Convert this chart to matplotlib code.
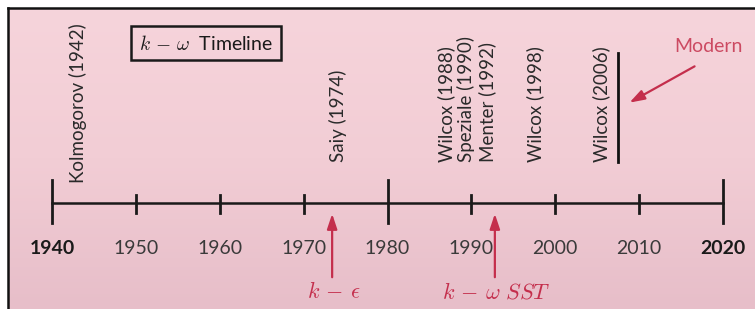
import matplotlib.pyplot as plt
import numpy as np

plt.rcParams['font.family'] = ['Lato', 'DejaVu Sans']
plt.rcParams['mathtext.fontset'] = 'cm'

# timeline data
tick_years = [1940, 1950, 1960, 1970, 1980, 1990, 2000, 2010, 2020]
major_years = [1940, 1980, 2020]
bold_years = [1940, 2020]
events = ['Kolmogorov (1942)', 'Saiy (1974)', 'Wilcox (1988)', 'Speziale (1990)',
          'Menter (1992)', 'Wilcox (1998)', 'Wilcox (2006)']
event_years = [1942, 1974, 1988, 1990, 1992, 1998, 2006]
label_shift = [1.1, 0.1, -1.0, -0.7, -0.1, -0.4, -0.5]   # nudges, in years
label_base = [183, 162, 162, 162, 162, 162, 162]
models = [r'$k\,-\,\epsilon$', r'$k\,-\,\omega\ SST$']
model_years = [1973.4, 1992.8]
modern_year = 2007.5

RED = '#c42e4c'
PX = 8.3875  # pixels per year

fig = plt.figure(figsize=(7.55, 3.09), dpi=100)
fig.patch.set_facecolor('white')
ax = fig.add_axes([0, 0, 1, 1])
ax.set_xlim(1940 - 52 / PX, 1940 + 703 / PX)
ax.set_ylim(309, 0)
ax.axis('off')

# pink slide background with a soft vertical gradient
x0 = 1940 - 44 / PX
grad = np.linspace(0, 1, 100).reshape(-1, 1)
cmap = plt.matplotlib.colors.LinearSegmentedColormap.from_list('bg', ['#f6d4db', '#f2cdd5', '#e7bec9'])
ax.imshow(grad, cmap=cmap, aspect='auto', extent=[x0, 2030, 309, 8], zorder=0)
ax.plot([x0, x0], [309, 8], color='#111111', lw=1.8, zorder=1)
ax.plot([x0, 2030], [8, 8], color='#111111', lw=1.8, zorder=1)

# main axis line and ticks
ax.plot([tick_years[0], tick_years[-1]], [203, 203], color='#1a1a1a', lw=1.8)
for y in tick_years:
    top, bot = (180, 223) if y in major_years else (195, 213)
    ax.plot([y, y], [top, bot], color='#1a1a1a', lw=2.0)
    bold = y in bold_years
    ax.text(y, 248, str(y), ha='center', va='center', fontsize=14,
            fontweight='bold' if bold else 'normal', color='#1a1a1a' if bold else '#3a3a3a')

# event labels
for name, yr, dx, base in zip(events, event_years, label_shift, label_base):
    ax.text(yr + dx, base, name, rotation=90, ha='center', va='bottom',
            fontsize=13.5, color='#2a2a2a')

ax.plot([modern_year, modern_year], [53, 162], color='#111111', lw=2.0)

# title box
ax.text(1940 + (206 - 52) / PX, 43, r'$k\,-\,\omega$  Timeline', ha='center', va='center',
        fontsize=14, color='#1a1a1a',
        bbox=dict(boxstyle='square,pad=0.4', fc='none', ec='#1a1a1a', lw=1.8))

# model arrows
for lab, yr in zip(models, model_years):
    ax.annotate('', xy=(yr, 211), xytext=(yr, 280),
                arrowprops=dict(arrowstyle='-|>,head_length=0.9,head_width=0.3', color=RED, lw=1.6))
    ax.text(yr + 0.2, 292, lab, ha='center', va='center', fontsize=16, color=RED)

ax.text(1940 + (708 - 52) / PX, 47, 'Modern', ha='center', va='center', fontsize=14, color='#cc4a62')
ax.annotate('', xy=(1940 + (627 - 52) / PX, 104), xytext=(1940 + (697 - 52) / PX, 65),
            arrowprops=dict(arrowstyle='-|>,head_length=0.9,head_width=0.3', color=RED, lw=1.6))

fig.savefig('out.png', dpi=100)
